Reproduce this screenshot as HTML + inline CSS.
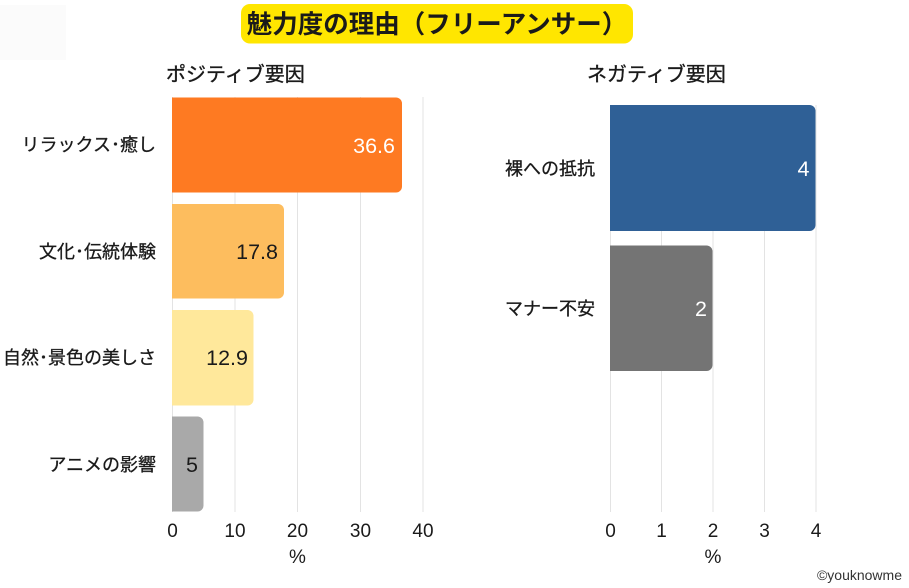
<!DOCTYPE html>
<html><head><meta charset="utf-8"><style>
html,body{margin:0;padding:0;background:#fff;}
svg{display:block;}
text{font-family:"Liberation Sans","Noto Sans CJK JP",sans-serif;}
</style></head><body>
<svg width="909" height="588" viewBox="0 0 909 588" xmlns="http://www.w3.org/2000/svg">
<rect x="0" y="5" width="66" height="55" fill="#fbfbfb"/>
<!-- title -->
<rect x="241" y="4" width="392" height="39.5" rx="9" fill="#FFE600"/>
<text x="437" y="33" font-size="25.5" font-weight="bold" text-anchor="middle" fill="#1a1a1a">魅力度の理由（フリーアンサー）</text>
<g fill="#1a1a1a" stroke="#1a1a1a" stroke-width="0.35" font-size="20">
<text x="166" y="81">ポジティブ要因</text>
<text x="587" y="81">ネガティブ要因</text>
</g>

<!-- left grid -->
<g stroke="#e3e3e3" stroke-width="1">
<line x1="172.5" y1="97" x2="172.5" y2="512"/>
<line x1="235" y1="97" x2="235" y2="512"/>
<line x1="297.5" y1="97" x2="297.5" y2="512"/>
<line x1="360.5" y1="97" x2="360.5" y2="512"/>
<line x1="423" y1="97" x2="423" y2="512"/>
</g>
<!-- left bars -->
<path d="M172,97.5 H396 a6,6 0 0 1 6,6 V186.5 a6,6 0 0 1 -6,6 H172 Z" fill="#FE7A22"/>
<path d="M172,204 H278 a6,6 0 0 1 6,6 V292.5 a6,6 0 0 1 -6,6 H172 Z" fill="#FDBD5E"/>
<path d="M172,310 H247.5 a6,6 0 0 1 6,6 V399.5 a6,6 0 0 1 -6,6 H172 Z" fill="#FFE89B"/>
<path d="M172,416.5 H197.5 a6,6 0 0 1 6,6 V505.5 a6,6 0 0 1 -6,6 H172 Z" fill="#A9A9A9"/>
<g font-size="21.5" text-anchor="end">
<text x="395" y="153" fill="#ffffff">36.6</text>
<text x="278" y="259" fill="#1a1a1a">17.8</text>
<text x="248" y="365" fill="#1a1a1a">12.9</text>
<text x="198" y="472" fill="#1a1a1a">5</text>
</g>
<g font-size="18" text-anchor="end" fill="#1a1a1a" stroke="#1a1a1a" stroke-width="0.3">
<text x="156" y="151">リラックス･癒し</text>
<text x="156" y="258">文化･伝統体験</text>
<text x="156" y="364">自然･景色の美しさ</text>
<text x="156" y="471">アニメの影響</text>
</g>
<g font-size="19" text-anchor="middle" fill="#1a1a1a">
<text x="172.5" y="537">0</text>
<text x="235" y="537">10</text>
<text x="297.5" y="537">20</text>
<text x="360.5" y="537">30</text>
<text x="423" y="537">40</text>
<text x="297.5" y="563">%</text>
</g>

<!-- right grid -->
<g stroke="#e3e3e3" stroke-width="1">
<line x1="610.5" y1="105" x2="610.5" y2="512"/>
<line x1="661.5" y1="105" x2="661.5" y2="512"/>
<line x1="713" y1="105" x2="713" y2="512"/>
<line x1="764.5" y1="105" x2="764.5" y2="512"/>
<line x1="816" y1="105" x2="816" y2="512"/>
</g>
<path d="M610,105 H809.5 a6,6 0 0 1 6,6 V225 a6,6 0 0 1 -6,6 H610 Z" fill="#2F6096"/>
<path d="M610,245.5 H706.5 a6,6 0 0 1 6,6 V365 a6,6 0 0 1 -6,6 H610 Z" fill="#747474"/>
<g font-size="21.5" text-anchor="end" fill="#ffffff">
<text x="809.5" y="176">4</text>
<text x="707" y="316">2</text>
</g>
<g font-size="18" text-anchor="end" fill="#1a1a1a" stroke="#1a1a1a" stroke-width="0.3">
<text x="595" y="175">裸への抵抗</text>
<text x="595" y="315">マナー不安</text>
</g>
<g font-size="19" text-anchor="middle" fill="#1a1a1a">
<text x="610.5" y="537">0</text>
<text x="661.5" y="537">1</text>
<text x="713" y="537">2</text>
<text x="764.5" y="537">3</text>
<text x="816" y="537">4</text>
<text x="713" y="563">%</text>
</g>
<text x="902" y="580" font-size="14" text-anchor="end" fill="#333">©youknowme</text>
</svg>
</body></html>
